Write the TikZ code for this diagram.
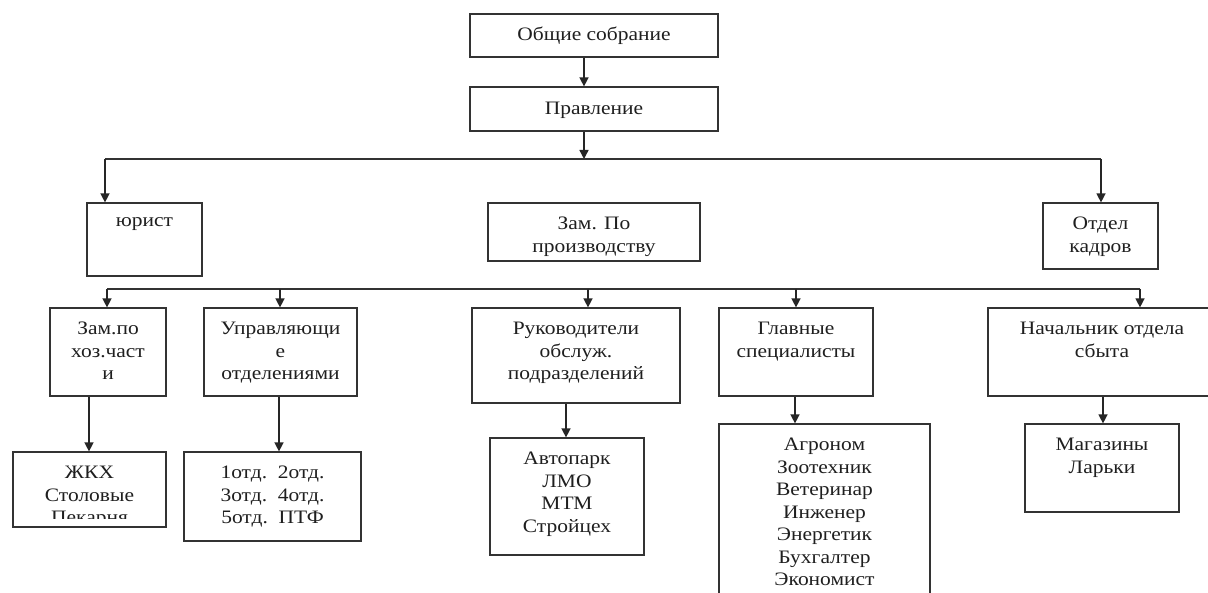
\documentclass[tikz,border=0pt]{standalone}
\usepackage{fontspec}
\setmainfont{Liberation Serif}[FakeStretch=1.13]
\usetikzlibrary{arrows.meta}
\begin{document}
\begin{tikzpicture}[x=1pt,y=-1pt,
  box/.style={draw=black!80,line width=1.2pt,rectangle,inner sep=0pt},
  txt/.style={anchor=north,inner sep=0pt,align=center,text=black!88,
    font=\fontsize{19}{22.5}\selectfont},
  arr/.style={draw=black!85,line width=1.4pt,-{Triangle[width=9pt,length=9pt]}},
  bus/.style={draw=black!80,line width=1.3pt}]
\clip (0,0) rectangle (1208,593);
\fill[white] (0,0) rectangle (1208,593);
\newcommand\st{\rule{0pt}{14pt}}
% boxes
\node[box,minimum width=248pt,minimum height=43pt] (obs) at (594,35.5) {};
\node[box,minimum width=248pt,minimum height=44pt] (prav) at (594,109) {};
\node[box,minimum width=115pt,minimum height=73pt] (yur) at (144.5,239.5) {};
\node[box,minimum width=212pt,minimum height=58pt] (zam) at (594,232) {};
\node[box,minimum width=115pt,minimum height=66pt] (kadr) at (1100.5,236) {};
\node[box,minimum width=116pt,minimum height=88pt] (zamhoz) at (108,352) {};
\node[box,minimum width=153pt,minimum height=88pt] (upr) at (280.5,352) {};
\node[box,minimum width=208pt,minimum height=95pt] (ruk) at (576,355.5) {};
\node[box,minimum width=154pt,minimum height=88pt] (glav) at (796,352) {};
\node[box,minimum width=228pt,minimum height=88pt] (nach) at (1102,352) {};
\node[box,minimum width=153pt,minimum height=75pt] (zhkh) at (89.5,489.5) {};
\node[box,minimum width=177pt,minimum height=89pt] (otd) at (272.5,496.5) {};
\node[box,minimum width=154pt,minimum height=117pt] (avto) at (567,496.5) {};
\node[box,minimum width=211pt,minimum height=196pt] (spec) at (824.5,522) {};
\node[box,minimum width=154pt,minimum height=88pt] (mag) at (1102,468) {};
% texts
\node[txt] (tobs) at ([yshift=-13pt]obs.north) {\st Общие собрание};
\node[txt] (tprav) at ([yshift=-14pt]prav.north) {\st Правление};
\node[txt] (tyur) at ([yshift=-10pt]yur.north) {\st юрист};
\node[txt] (tzam) at ([yshift=-13pt]zam.north) {\st Зам. По\\производству};
\node[txt] (tkadr) at ([yshift=-13pt]kadr.north) {\st Отдел\\кадров};
\node[txt] (tzamhoz) at ([yshift=-13pt]zamhoz.north) {\st Зам.по\\хоз.част\\и};
\node[txt] (tupr) at ([yshift=-13pt]upr.north) {\st Управляющи\\е\\отделениями};
\node[txt] (truk) at ([yshift=-13pt]ruk.north) {\st Руководители\\обслуж.\\подразделений};
\node[txt] (tglav) at ([yshift=-13pt]glav.north) {\st Главные\\специалисты};
\node[txt] (tnach) at ([yshift=-13pt]nach.north) {\st Начальник отдела\\сбыта};
\begin{scope}
\clip ([yshift=-2pt]zhkh.north west) rectangle ([yshift=9pt]zhkh.south east);
\node[txt] (tzhkh) at ([yshift=-13pt]zhkh.north) {\st ЖКХ\\Столовые\\Пекарня};
\end{scope}
\node[txt] (totd) at ([yshift=-13pt]otd.north) {\st 1отд.\ \ 2отд.\\3отд.\ \ 4отд.\\5отд.\ \ ПТФ};
\node[txt] (tavto) at ([yshift=-13pt]avto.north) {\st Автопарк\\ЛМО\\МТМ\\Стройцех};
\node[txt] (tspec) at ([yshift=-13pt]spec.north) {\st Агроном\\Зоотехник\\Ветеринар\\Инженер\\Энергетик\\Бухгалтер\\Экономист};
\node[txt] (tmag) at ([yshift=-13pt]mag.north) {\st Магазины\\Ларьки};
% bus coordinates
\coordinate (b1) at (584,159);
\coordinate (b1L) at (105,159);
\coordinate (b1R) at (1101,159);
\coordinate (b2L) at (107,289);
\coordinate (b2a) at (280,289);
\coordinate (b2b) at (588,289);
\coordinate (b2c) at (796,289);
\coordinate (b2R) at (1140,289);
\coordinate (xa) at (89,0);
\coordinate (xb) at (279,0);
\coordinate (xc) at (566,0);
\coordinate (xd) at (795,0);
\coordinate (xe) at (1103,0);
% connectors
\draw[arr] (obs.south -| b1) -- (prav.north -| b1);
\draw[arr] (prav.south -| b1) -- (b1);
\draw[bus] (b1L) -- (b1R);
\draw[arr] (b1L) -- (yur.north -| b1L);
\draw[arr] (b1R) -- (kadr.north -| b1R);
\draw[bus] (b2L) -- (b2R);
\draw[arr] (b2L) -- (zamhoz.north -| b2L);
\draw[arr] (b2a) -- (upr.north -| b2a);
\draw[arr] (b2b) -- (ruk.north -| b2b);
\draw[arr] (b2c) -- (glav.north -| b2c);
\draw[arr] (b2R) -- (nach.north -| b2R);
\draw[arr] (zamhoz.south -| xa) -- (zhkh.north -| xa);
\draw[arr] (upr.south -| xb) -- (otd.north -| xb);
\draw[arr] (ruk.south -| xc) -- (avto.north -| xc);
\draw[arr] (glav.south -| xd) -- (spec.north -| xd);
\draw[arr] (nach.south -| xe) -- (mag.north -| xe);
\end{tikzpicture}
\end{document}
